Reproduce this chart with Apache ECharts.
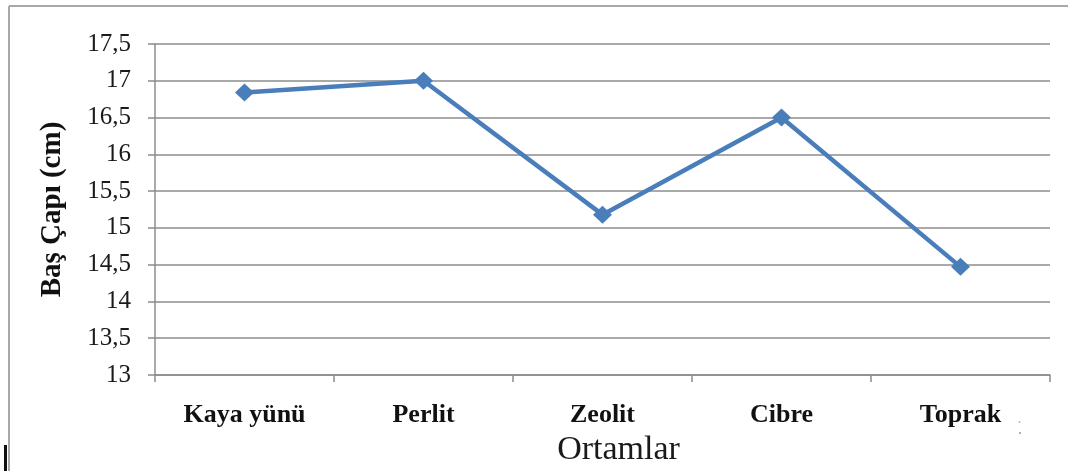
<!DOCTYPE html>
<html>
<head>
<meta charset="utf-8">
<script src="https://cdn.jsdelivr.net/npm/echarts@6/dist/echarts.min.js"></script>
<style>
  html, body { margin: 0; padding: 0; background: #ffffff; }
  #chart { width: 1068px; height: 471px; }
</style>
</head>
<body>
<div id="chart"></div>
<script>
// Growing media and measured head diameter
const categories = ['Kaya yünü', 'Perlit', 'Zeolit', 'Cibre', 'Toprak'];
const headDiameter = [16.84, 17.0, 15.18, 16.5, 14.47];
const yAxisTitle = 'Baş Çapı (cm)';
const xAxisTitle = 'Ortamlar';

const chart = echarts.init(document.getElementById('chart'), null, { renderer: 'canvas' });

const serif = '"Liberation Serif", "Times New Roman", serif';
const gridColor = '#8c8c8c';

chart.setOption({
  animation: false,
  backgroundColor: '#ffffff',
  grid: {
    left: 155, right: 18, top: 44, bottom: 96,
    containLabel: false,
    outerBoundsMode: 'none'
  },
  xAxis: {
    type: 'category',
    data: categories,
    boundaryGap: true,
    name: xAxisTitle,
    nameLocation: 'middle',
    nameGap: 57,
    nameTextStyle: { fontFamily: serif, fontSize: 34, color: '#1a1a1a', padding: [0, 0, 0, 32] },
    axisLine: { lineStyle: { color: gridColor, width: 1.5 } },
    axisTick: { show: true, length: 7, lineStyle: { color: gridColor, width: 1.5 } },
    axisLabel: {
      margin: 27,
      fontFamily: serif,
      fontWeight: 'bold',
      fontSize: 26,
      color: '#111111'
    },
    splitLine: { show: false }
  },
  yAxis: {
    type: 'value',
    min: 13,
    max: 17.5,
    interval: 0.5,
    name: yAxisTitle,
    nameLocation: 'middle',
    nameGap: 88,
    nameRotate: 90,
    nameTextStyle: {
      fontFamily: serif,
      fontWeight: 'bold',
      fontSize: 29,
      color: '#111111'
    },
    axisLine: { show: true, lineStyle: { color: gridColor, width: 1.5 } },
    axisTick: { show: true, length: 7, lineStyle: { color: gridColor, width: 1.5 } },
    axisLabel: {
      margin: 24,
      fontFamily: serif,
      fontSize: 25,
      color: '#1a1a1a',
      formatter: v => String(v).replace('.', ',')
    },
    splitLine: { show: true, lineStyle: { color: gridColor, width: 1.5 } }
  },
  series: [{
    type: 'line',
    data: headDiameter,
    symbol: 'diamond',
    symbolSize: [19, 18],
    lineStyle: { color: '#4a7ebb', width: 4.5 },
    itemStyle: { color: '#4a7ebb' },
    z: 5
  }],
  graphic: [
    // frame of the chart area (top and left edges)
    { type: 'line', shape: { x1: 9, y1: 6, x2: 1068, y2: 6 }, style: { stroke: '#a8a8a8', lineWidth: 2 }, silent: true },
    { type: 'line', shape: { x1: 9, y1: 6, x2: 9, y2: 471 }, style: { stroke: '#a8a8a8', lineWidth: 2 }, silent: true },
    // dark edge mark at the lower left
    { type: 'rect', shape: { x: 4, y: 445, width: 3, height: 26 }, style: { fill: '#111111' }, silent: true },
    // two faint specks to the right of the last label
    { type: 'circle', shape: { cx: 1019.5, cy: 422, r: 0.9 }, style: { fill: '#b0b0b0' }, silent: true },
    { type: 'circle', shape: { cx: 1020, cy: 433, r: 0.9 }, style: { fill: '#909090' }, silent: true }
  ]
});
</script>
</body>
</html>
